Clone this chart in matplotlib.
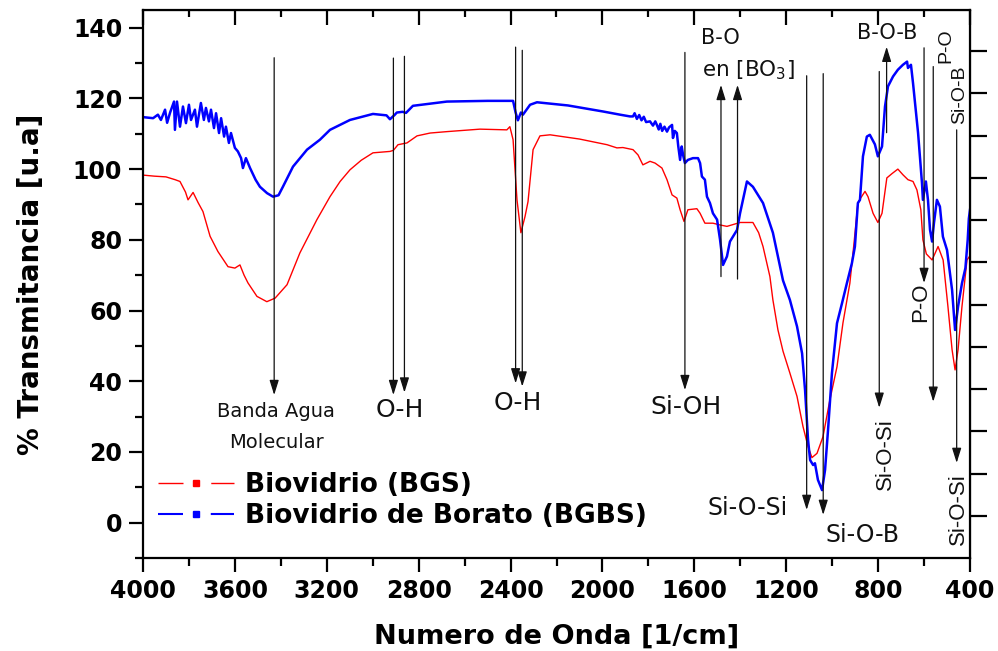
import numpy as np
import matplotlib
matplotlib.use("Agg")
import matplotlib.pyplot as plt
from matplotlib.lines import Line2D
from matplotlib.ticker import MultipleLocator

plt.rcParams['font.family'] = ['DejaVu Sans']
plt.rcParams['lines.scale_dashes'] = False

# --- data (wavenumber in 1/cm, % transmittance) ---
wn_bgs = [4000, 3950, 3900, 3860, 3839, 3815, 3804, 3782, 3760, 3739, 3708, 3674,
          3630, 3600, 3578, 3560, 3543, 3504, 3461, 3425, 3373, 3317, 3243, 3186,
          3142, 3099, 3050, 2999, 2925, 2910, 2890, 2851, 2807, 2750, 2677, 2533,
          2416, 2403, 2389, 2372, 2355, 2337, 2324, 2302, 2272, 2228, 2100, 1980,
          1937, 1911, 1867, 1845, 1824, 1793, 1771, 1741, 1719, 1697, 1676, 1662,
          1645, 1628, 1589, 1575, 1554, 1519, 1488, 1458, 1401, 1345, 1320, 1301,
          1271, 1258, 1236, 1214, 1184, 1153, 1127, 1105, 1088, 1066, 1040, 1010,
          979, 953, 923, 905, 888, 879, 857, 844, 822, 801, 783, 762, 740, 714,
          692, 670, 648, 631, 614, 605, 590, 565, 539, 517, 496, 478, 465, 452,
          435, 413, 400]
t_bgs = [98.3, 98.0, 97.8, 97.0, 96.5, 93.5, 91.3, 93.4, 90.5, 88.0, 81.0, 76.7,
         72.4, 72.0, 72.9, 70.0, 67.8, 64.0, 62.5, 63.5, 67.3, 76.3, 85.7, 92.2,
         96.5, 99.8, 102.5, 104.6, 105.0, 105.3, 106.9, 107.4, 109.4, 110.2, 110.6, 111.3,
         111.1, 112.0, 108.3, 91.3, 82.0, 86.6, 90.8, 105.5, 109.4, 109.7, 108.5, 106.9,
         106.0, 106.1, 105.5, 104.0, 101.2, 102.2, 101.7, 100.3, 97.0, 92.7, 91.8, 88.5,
         85.2, 88.5, 88.8, 87.5, 84.7, 84.7, 84.2, 83.8, 84.9, 84.9, 82.0, 78.1,
         69.6, 63.0, 54.5, 48.5, 42.3, 35.7, 27.2, 21.5, 18.4, 19.6, 24.3, 34.7,
         44.1, 56.5, 67.7, 79.0, 90.4, 91.5, 93.7, 92.2, 87.5, 84.9, 87.5, 97.5, 98.7, 100.0,
         98.4, 97.0, 96.5, 94.1, 88.5, 80.0, 76.0, 74.3, 78.1, 74.3, 61.1, 48.9, 43.2, 48.9,
         61.1, 74.3, 75.5]

wn_bgbs = [4000, 3956, 3935, 3922, 3904, 3895, 3882, 3865, 3861, 3852, 3839, 3826,
           3813, 3800, 3791, 3774, 3765, 3748, 3735, 3726, 3713, 3704, 3691, 3682,
           3669, 3660, 3647, 3639, 3626, 3617, 3600, 3587, 3573, 3565, 3552, 3534,
           3510, 3491, 3460, 3434, 3410, 3391, 3347, 3286, 3230, 3186, 3142, 3099,
           2999, 2940, 2925, 2905, 2895, 2870, 2855, 2825, 2677, 2500, 2389, 2378,
           2368, 2355, 2346, 2315, 2285, 2150, 1998, 1924, 1880, 1867, 1860, 1850,
           1840, 1830, 1820, 1810, 1793, 1780, 1770, 1763, 1755, 1748, 1740, 1730,
           1719, 1710, 1697, 1693, 1685, 1676, 1670, 1662, 1655, 1649, 1641, 1628,
           1606, 1584, 1575, 1567, 1554, 1545, 1532, 1519, 1501, 1488, 1475, 1458,
           1445, 1414, 1401, 1371, 1345, 1301, 1258, 1214, 1184, 1153, 1131, 1118,
           1105, 1096, 1083, 1075, 1062, 1044, 1031, 1018, 1001, 979, 957, 936,
           914, 901, 888, 879, 866, 849, 836, 814, 801, 783, 770, 757, 735, 714,
           692, 674, 670, 657, 648, 626, 609, 605, 592, 583, 574, 565, 557, 544,
           531, 518, 500, 478, 465, 452, 435, 420, 410, 405, 400]
t_bgbs = [114.7, 114.4, 115.4, 113.9, 116.8, 113.1, 116.0, 119.1, 111.1, 119.1, 112.0, 117.7,
          113.0, 118.2, 113.9, 116.8, 112.0, 118.7, 113.9, 117.3, 113.5, 116.8, 111.6, 115.8,
          110.2, 114.4, 109.2, 112.0, 107.4, 110.2, 106.0, 105.0, 103.1, 100.3, 103.1, 100.3,
          97.0, 95.0, 93.2, 92.2, 92.6, 95.0, 100.7, 105.5, 108.3, 111.1, 112.5, 113.9,
          115.6, 115.2, 114.1, 115.3, 116.0, 116.2, 115.9, 117.9, 119.1, 119.3, 119.3, 116.0,
          113.8, 116.0, 115.4, 118.2, 118.9, 118.0, 116.3, 115.4, 114.9, 114.9, 115.8, 114.2,
          115.3, 113.8, 114.8, 113.3, 113.5, 112.3, 113.5, 112.5, 111.2, 112.8, 110.8, 112.0,
          110.6, 111.8, 112.5, 108.8, 110.8, 110.2, 106.5, 102.6, 106.4, 104.0, 101.7, 102.6,
          103.1, 103.1, 101.7, 97.9, 97.0, 92.2, 90.4, 87.5, 85.7, 80.0, 72.9, 75.3,
          79.5, 82.8, 87.5, 96.5, 95.0, 90.4, 82.0, 68.5, 63.0, 55.5, 47.9, 37.5,
          23.4, 17.7, 16.3, 16.8, 12.1, 9.2, 14.9, 26.2, 42.3, 56.4, 62.1, 67.7,
          73.4, 78.1, 90.4, 91.3, 103.6, 109.2, 109.7, 107.0, 103.6, 106.4, 117.7, 123.4, 126.2, 128.1,
          129.5, 130.4, 128.6, 129.5, 124.3, 110.2, 96.0, 91.3, 96.5, 91.3, 82.8, 79.5, 84.7, 91.3,
          89.4, 80.9, 77.1, 65.8, 54.5, 61.1, 67.7, 72.0, 80.0, 86.0, 88.5]

legend_labels = ["Biovidrio (BGS)", "Biovidrio de Borato (BGBS)"]

# arrows: (x, y_start, y_tip)
arrows = [(3429, 131.5, 36.1), (2910, 131.4, 36.1), (2862, 131.9, 36.8),
          (2378, 134.5, 39.4), (2349, 133.6, 38.5), (1641, 133.0, 37.5),
          (1484, 69.6, 123.8), (1412, 68.9, 123.8),
          (1111, 126.4, 3.6), (1039, 127.0, 2.2),
          (763, 110.3, 134.6), (795, 127.6, 32.5),
          (600, 134.3, 67.8), (560, 129.0, 34.2), (458, 111.1, 16.9)]

# horizontal labels: (text, x, y, size)
labels_h = [("Banda Agua", 3420, 31.4, 14), ("Molecular", 3420, 22.7, 14),
            ("O-H", 2881, 31.9, 18), ("O-H", 2368, 33.9, 18),
            ("Si-OH", 1636, 32.7, 18), ("B-O", 1488, 137.1, 15),
            ("en [BO$_3$]", 1366, 128.0, 15.5), ("Si-O-Si", 1366, 4.2, 17),
            ("Si-O-B", 870, -3.5, 17), ("B-O-B", 760, 138.4, 15)]

# vertical labels: (text, x, y, size)
labels_v = [("Si-O-Si", 766, 19.4, 16), ("P-O", 617, 62.2, 16),
            ("P-O", 505, 134.9, 14), ("Si-O-B", 444, 121.0, 14),
            ("Si-O-Si", 451, 3.9, 16)]

fig = plt.figure(figsize=(9.98, 6.51), dpi=100)
ax = fig.add_axes([143 / 998, 1 - 558 / 651, 827 / 998, 548 / 651])

ax.plot(wn_bgs, t_bgs, color='red', lw=1.0)
ax.plot(wn_bgbs, t_bgbs, color='blue', lw=1.8)

for x, y0, y1 in arrows:
    ax.annotate('', xy=(x, y1), xytext=(x, y0),
                arrowprops=dict(arrowstyle='-|>,head_length=0.9,head_width=0.28',
                                color='#111111', lw=0.9, shrinkA=0, shrinkB=0),
                zorder=5)

for txt, x, y, fs in labels_h:
    ax.text(x, y, txt, fontsize=fs, ha='center', va='center', color='#111111')

for txt, x, y, fs in labels_v:
    ax.text(x, y, txt, fontsize=fs, ha='center', va='center', rotation=90,
            family='Liberation Sans', color='#111111')

ax.set_xlim(4000, 400)
ax.set_ylim(-10, 145)
ax.xaxis.set_major_locator(MultipleLocator(400))
ax.xaxis.set_minor_locator(MultipleLocator(200))
ax.yaxis.set_major_locator(MultipleLocator(20))
ax.yaxis.set_minor_locator(MultipleLocator(10))
ax.tick_params(which='major', direction='out', length=10, width=1.6, labelsize=17, pad=5)
ax.tick_params(which='minor', direction='out', length=6, width=1.6)
for lab in ax.get_xticklabels() + ax.get_yticklabels():
    lab.set_fontweight('bold')
for sp in ax.spines.values():
    sp.set_linewidth(1.6)

secx = ax.secondary_xaxis('top')
secx.xaxis.set_major_locator(MultipleLocator(400))
secx.xaxis.set_minor_locator(MultipleLocator(200))
secx.tick_params(which='major', direction='in', length=11, width=1.6, labeltop=False)
secx.tick_params(which='minor', direction='in', length=5, width=1.6)

secy = ax.secondary_yaxis('right')
secy.set_yticks(np.arange(1.9, 140, 11.95))
secy.tick_params(direction='out', length=12, width=1.6, labelright=False)

ax.set_xlabel("Numero de Onda [1/cm]", fontsize=19.5, fontweight='bold', labelpad=15)
ax.set_ylabel("% Transmitancia [u.a]", fontsize=20, fontweight='bold', labelpad=20)

handles = [Line2D([], [], color='red', lw=1.0, dashes=(18, 20), marker='s',
                  markersize=4.5, markeredgecolor='red'),
           Line2D([], [], color='blue', lw=1.5, dashes=(18, 20), marker='s',
                  markersize=4.5, markeredgecolor='blue')]
leg = ax.legend(handles, legend_labels, loc='upper left', bbox_to_anchor=(-0.011, 0.2),
                frameon=False, handlelength=2.9, handletextpad=0.4, labelspacing=0.2,
                prop={'size': 19, 'weight': 'bold'})

fig.savefig("out.png", dpi=100)
